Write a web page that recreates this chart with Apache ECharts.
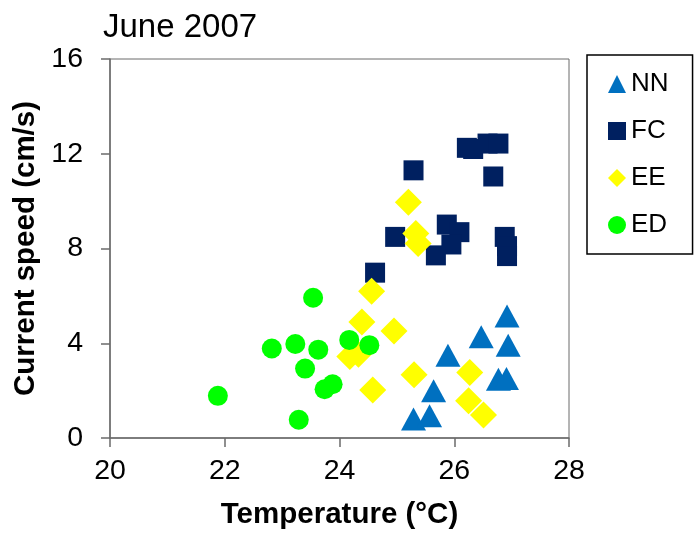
<!DOCTYPE html>
<html>
<head>
<meta charset="utf-8">
<script src="https://cdn.jsdelivr.net/npm/echarts@6/dist/echarts.min.js"></script>
<style>
html,body{margin:0;padding:0;background:#fff;}
#chart{width:696px;height:535px;}
</style>
</head>
<body>
<div id="chart"></div>
<script>
const seriesNames = ['NN', 'FC', 'EE', 'ED'];
const xTicks = [20, 22, 24, 26, 28];
const yTicks = [0, 4, 8, 12, 16];

const nnTemp  = [26.92, 26.47, 26.94, 25.89, 26.77, 26.91, 25.64, 25.29, 25.57];
const nnSpeed = [5.15, 4.27, 3.92, 3.49, 2.48, 2.51, 1.99, 0.80, 0.94];

const fcTemp  = [26.22, 26.33, 26.58, 26.77, 26.68, 25.29, 24.97, 24.62, 25.87, 26.09, 25.95, 25.68, 26.88, 26.92, 26.92];
const fcSpeed = [12.25, 12.20, 12.43, 12.43, 11.04, 11.30, 8.49, 6.98, 9.01, 8.69, 8.17, 7.71, 8.49, 8.10, 7.68];

const eeTemp  = [24.56, 24.39, 24.18, 24.33, 24.95, 24.58, 25.30, 26.27, 26.25, 26.51, 25.20, 25.33, 25.37];
const eeSpeed = [6.20, 4.90, 3.44, 3.54, 4.52, 2.03, 2.67, 2.77, 1.57, 0.97, 9.95, 8.63, 8.21];

const edTemp  = [21.88, 22.82, 23.23, 23.40, 23.54, 23.63, 23.74, 23.88, 23.29, 24.17, 24.52];
const edSpeed = [1.78, 3.78, 3.97, 2.93, 5.92, 3.73, 2.06, 2.27, 0.77, 4.14, 3.92];

const pairs = (xs, ys) => xs.map((x, i) => [x, ys[i]]);

const FONT = '"Liberation Sans", Arial, sans-serif';
const chart = echarts.init(document.getElementById('chart'), null, {renderer: 'canvas'});
const axisColor = '#6b6b6b';

chart.setOption({
  animation: false,
  backgroundColor: '#fff',
  title: {
    text: 'June 2007',
    left: 98, top: 6,
    textStyle: {fontFamily: FONT, fontSize: 33, fontWeight: 'normal', color: '#000'}
  },
  legend: {
    orient: 'vertical',
    left: 587, top: 55,
    padding: [16, 24, 16, 21],
    itemGap: 21,
    itemWidth: 18, itemHeight: 18,
    borderColor: '#000', borderWidth: 1.5,
    textStyle: {fontFamily: FONT, fontSize: 26, color: '#000'},
    data: [
      {name: 'NN', icon: 'triangle'},
      {name: 'FC', icon: 'rect'},
      {name: 'EE', icon: 'diamond'},
      {name: 'ED', icon: 'circle'}
    ]
  },
  grid: {
    left: 110, right: 127, top: 59, bottom: 96,
    show: true, borderColor: axisColor, borderWidth: 1
  },
  xAxis: {
    type: 'value', min: xTicks[0], max: xTicks[xTicks.length - 1], interval: 2,
    name: 'Temperature (°C)', nameLocation: 'middle', nameGap: 62,
    nameTextStyle: {fontFamily: FONT, fontSize: 29.5, fontWeight: 'bold', color: '#000'},
    axisLine: {show: true, lineStyle: {color: axisColor, width: 1.5}},
    axisTick: {show: true, inside: false, length: 9, lineStyle: {color: axisColor, width: 1.5}},
    axisLabel: {fontFamily: FONT, fontSize: 28.5, color: '#000', margin: 19},
    splitLine: {show: false}
  },
  yAxis: {
    type: 'value', min: yTicks[0], max: yTicks[yTicks.length - 1], interval: 4,
    name: 'Current speed (cm/s)', nameLocation: 'middle', nameGap: 67, nameRotate: 90,
    nameTextStyle: {fontFamily: FONT, fontSize: 29.5, fontWeight: 'bold', color: '#000'},
    axisLine: {show: true, lineStyle: {color: axisColor, width: 1.5}},
    axisTick: {show: true, inside: false, length: 9, lineStyle: {color: axisColor, width: 1.5}},
    axisLabel: {fontFamily: FONT, fontSize: 28.5, color: '#000', margin: 27},
    splitLine: {show: false}
  },
  series: [
    {name: 'NN', type: 'scatter', symbol: 'triangle', symbolSize: [25, 23],
     itemStyle: {color: '#0070C0', opacity: 1}, data: pairs(nnTemp, nnSpeed)},
    {name: 'FC', type: 'scatter', symbol: 'rect', symbolSize: 20,
     itemStyle: {color: '#002060', opacity: 1}, data: pairs(fcTemp, fcSpeed)},
    {name: 'EE', type: 'scatter', symbol: 'diamond', symbolSize: 27,
     itemStyle: {color: '#FFFF00', opacity: 1}, data: pairs(eeTemp, eeSpeed)},
    {name: 'ED', type: 'scatter', symbol: 'circle', symbolSize: 20,
     itemStyle: {color: '#00FF00', opacity: 1}, data: pairs(edTemp, edSpeed)}
  ]
});
</script>
</body>
</html>
